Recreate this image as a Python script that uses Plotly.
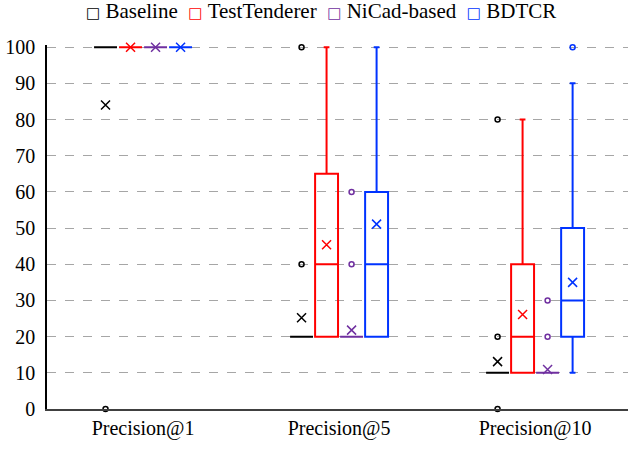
import plotly.graph_objects as go

categories = ["Precision@1", "Precision@5", "Precision@10"]
series = ["Baseline", "TestTenderer", "NiCad-based", "BDTCR"]
colors = ["#000000", "#ff0000", "#7030a0", "#0033ff"]

# box statistics per series, one value per category
q1 = {
    "Baseline": [100, 20, 10],
    "TestTenderer": [100, 20, 10],
    "NiCad-based": [100, 20, 10],
    "BDTCR": [100, 20, 20],
}
median = {
    "Baseline": [100, 20, 10],
    "TestTenderer": [100, 40, 20],
    "NiCad-based": [100, 20, 10],
    "BDTCR": [100, 40, 30],
}
q3 = {
    "Baseline": [100, 20, 10],
    "TestTenderer": [100, 65, 40],
    "NiCad-based": [100, 20, 10],
    "BDTCR": [100, 60, 50],
}
lower = {
    "Baseline": [100, 20, 10],
    "TestTenderer": [100, 20, 10],
    "NiCad-based": [100, 20, 10],
    "BDTCR": [100, 20, 10],
}
upper = {
    "Baseline": [100, 20, 10],
    "TestTenderer": [100, 100, 80],
    "NiCad-based": [100, 20, 10],
    "BDTCR": [100, 100, 90],
}
means = {
    "Baseline": [84, 25.2, 13.1],
    "TestTenderer": [100, 45.4, 26.1],
    "NiCad-based": [100, 21.8, 10.9],
    "BDTCR": [100, 51.1, 35.0],
}
outliers = {
    "Baseline": [[0], [100, 40], [80, 20, 0]],
    "TestTenderer": [[], [], []],
    "NiCad-based": [[], [60, 40], [30, 20]],
    "BDTCR": [[], [], [100]],
}

spacing = 0.1276
box_w = 0.117
font = "Liberation Serif"

fig = go.Figure()
for i, (s, c) in enumerate(zip(series, colors)):
    off = (i - (len(series) - 1) / 2) * spacing
    xs = [k + 1 + off for k in range(len(categories))]
    fig.add_trace(go.Box(
        x=xs, q1=q1[s], median=median[s], q3=q3[s],
        lowerfence=lower[s], upperfence=upper[s],
        width=box_w, whiskerwidth=0.25, boxpoints=False,
        line=dict(color=c, width=2), fillcolor="rgba(0,0,0,0)",
        showlegend=False, hoverinfo="skip", name=s,
    ))
    fig.add_trace(go.Scatter(
        x=xs, y=means[s], mode="markers",
        marker=dict(symbol="x-thin-open", size=9, color=c, line=dict(color=c, width=1.5)),
        showlegend=False, hoverinfo="skip", cliponaxis=False,
    ))
    ox, oy = [], []
    for k, vals in enumerate(outliers[s]):
        for v in vals:
            ox.append(xs[k])
            oy.append(v)
    fig.add_trace(go.Scatter(
        x=ox, y=oy, mode="markers",
        marker=dict(symbol="circle-open", size=5, color=c, line=dict(color=c, width=1.5)),
        showlegend=False, hoverinfo="skip", cliponaxis=False,
    ))

# legend drawn as a single text line with coloured square glyphs
nb = "\u00a0"
legend_text = (nb * 2).join(
    f'<span style="color:{c};font-size:15px;font-family:DejaVu Sans"><b>\u25a1</b></span>{nb}{s}'
    for s, c in zip(series, colors)
)
fig.add_annotation(text=legend_text, xref="paper", yref="paper", x=0.472, y=1.0945,
                   xanchor="center", yanchor="middle", showarrow=False,
                   font=dict(family=font, size=21, color="black"))

fig.update_layout(
    width=630, height=449,
    margin=dict(l=47, r=2, t=45, b=40, autoexpand=False),
    paper_bgcolor="white", plot_bgcolor="white",
    font=dict(family=font, size=20, color="black"),
    showlegend=False,
    xaxis=dict(range=[0.51, 3.474], tickvals=[1, 2, 3], ticktext=categories,
               showgrid=False, zeroline=False, showline=True, linecolor="#404040",
               linewidth=1.5, ticks="", tickfont=dict(family=font, size=20)),
    yaxis=dict(range=[0, 100.6], tickvals=list(range(0, 101, 10)), showgrid=True,
               gridcolor="#a6a6a6", griddash="dash", gridwidth=1, zeroline=False,
               showline=True, linecolor="black", linewidth=1.5, ticks="",
               ticklabelstandoff=6, tickfont=dict(family=font, size=20)),
)

fig.write_html("out.html", config={"displayModeBar": False},
               post_script="document.body.style.margin='0';")
